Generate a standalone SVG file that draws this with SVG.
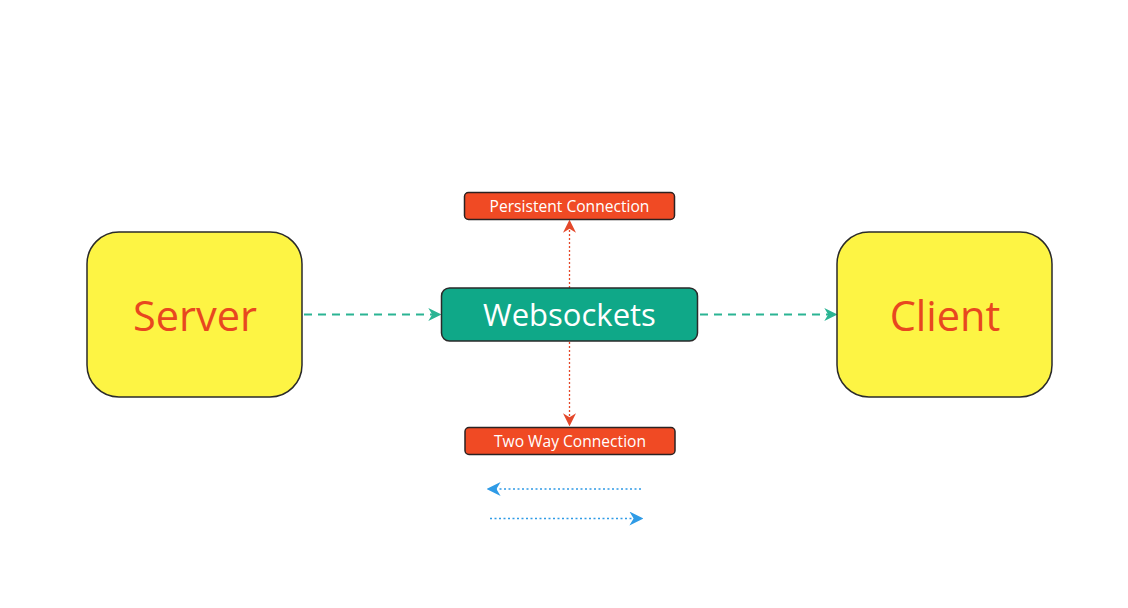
<svg xmlns="http://www.w3.org/2000/svg" width="1128" height="608" viewBox="0 0 1128 608">
<style>
.big{fill:#fdf444;stroke:#2a2a2a;stroke-width:1.5}
.bigt{font-family:"Open Sans","Noto Sans",sans-serif;font-size:41.5px;fill:#e8471f;text-anchor:middle}
.tag{fill:#f04a24;stroke:#2a2222;stroke-width:1.5}
.tagt{font-family:"Open Sans","Noto Sans",sans-serif;font-size:15.6px;fill:#fff;text-anchor:middle}
.teal{stroke:#2bb493;stroke-width:2;stroke-dasharray:8 6;fill:none}
.red{stroke:#e4482a;stroke-width:1.3;stroke-dasharray:2 2;fill:none}
.blue{stroke:#2f9be6;stroke-width:1.6;stroke-dasharray:2 2.5;fill:none}
</style>
<defs>
<marker id="mt" viewBox="0 0 10 10" refX="9" refY="5" markerWidth="13" markerHeight="13" markerUnits="userSpaceOnUse" orient="auto"><path d="M0,0 L10,5 L0,10 L3,5 Z" fill="#2bb493"/></marker>
<marker id="mr" viewBox="0 0 10 10" refX="9" refY="5" markerWidth="13" markerHeight="13" markerUnits="userSpaceOnUse" orient="auto"><path d="M0,0 L10,5 L0,10 L3,5 Z" fill="#e4482a"/></marker>
<marker id="mb" viewBox="0 0 10 10" refX="9" refY="5" markerWidth="14" markerHeight="14" markerUnits="userSpaceOnUse" orient="auto"><path d="M0,0 L10,5 L0,10 L3,5 Z" fill="#2f9be6"/></marker>
</defs>
<rect width="1128" height="608" fill="#fff"/>
<g id="connectors">
<line class="teal" x1="304" y1="314.5" x2="440" y2="314.5" marker-end="url(#mt)"/>
<line class="teal" x1="700" y1="314.5" x2="836" y2="314.5" marker-end="url(#mt)"/>
<line class="red" x1="569.5" y1="288" x2="569.5" y2="221" marker-end="url(#mr)"/>
<line class="red" x1="569.5" y1="342" x2="569.5" y2="425" marker-end="url(#mr)"/>
<line class="blue" x1="641" y1="489" x2="488" y2="489" marker-end="url(#mb)"/>
<line class="blue" x1="490" y1="518.5" x2="642" y2="518.5" marker-end="url(#mb)"/>
</g>
<g id="server">
<rect class="big" x="87" y="232" width="215" height="165" rx="32"/>
<text class="bigt" x="195" y="331">Server</text>
</g>
<g id="client">
<rect class="big" x="837" y="232" width="215" height="165" rx="32"/>
<text class="bigt" x="945" y="331">Client</text>
</g>
<g id="websockets">
<rect x="441.5" y="288" width="256" height="53" rx="8" fill="#0fa888" stroke="#2a2a2a" stroke-width="1.5"/>
<text x="569.5" y="326" font-family="'Open Sans','Noto Sans',sans-serif" font-size="31" fill="#fff" text-anchor="middle">Websockets</text>
</g>
<g id="persistent">
<rect class="tag" x="464.5" y="192.5" width="210" height="27" rx="4"/>
<text class="tagt" x="569.5" y="211.5">Persistent Connection</text>
</g>
<g id="twoway">
<rect class="tag" x="465" y="427.5" width="210" height="27" rx="4"/>
<text class="tagt" x="570" y="446.5">Two Way Connection</text>
</g>
</svg>
